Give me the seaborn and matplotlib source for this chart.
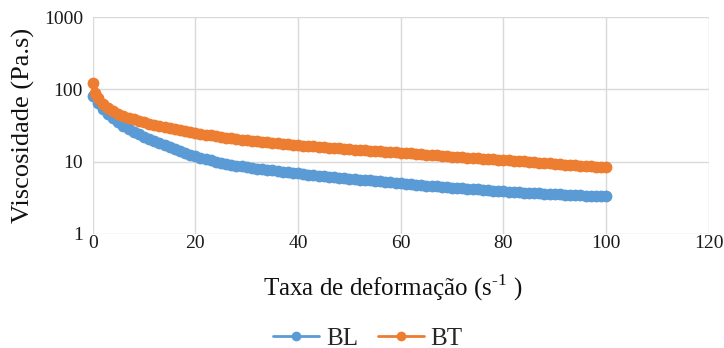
import matplotlib
matplotlib.use("Agg")
import matplotlib.pyplot as plt
import seaborn as sns
import pandas as pd
import numpy as np
from matplotlib.lines import Line2D

# ---- data ----
shear_rate = [0.1] + list(range(1, 101))

bl_viscosity = [80, 65, 54, 46, 40, 35, 31.5, 28.5, 26, 24, 22,
                20.5, 19, 17.8, 16.7, 15.7, 14.8, 14.0, 13.2, 12.5, 11.8,
                11.3, 10.8, 10.4, 10.0, 9.7, 9.4, 9.1, 8.8, 8.6, 8.4,
                8.2, 8.0, 7.85, 7.7, 7.55, 7.4, 7.25, 7.1, 7.0, 6.9,
                6.75, 6.6, 6.5, 6.4, 6.3, 6.2, 6.1, 6.0, 5.9, 5.8,
                5.72, 5.64, 5.56, 5.48, 5.40, 5.32, 5.24, 5.16, 5.08, 5.0,
                4.93, 4.86, 4.79, 4.72, 4.66, 4.60, 4.54, 4.48, 4.42, 4.36,
                4.31, 4.26, 4.21, 4.16, 4.11, 4.06, 4.01, 3.97, 3.93, 3.89,
                3.85, 3.81, 3.77, 3.73, 3.70, 3.67, 3.64, 3.61, 3.58, 3.55,
                3.52, 3.49, 3.46, 3.43, 3.41, 3.39, 3.37, 3.35, 3.33, 3.30]

bt_viscosity = [122, 75, 62, 55, 50, 46, 43, 40.5, 38.5, 36.5, 35,
                33.5, 32.2, 31, 30, 29, 28, 27.2, 26.4, 25.6, 24.9,
                24.2, 23.6, 23.0, 22.5, 22.0, 21.5, 21.0, 20.6, 20.2, 19.8,
                19.4, 19.1, 18.8, 18.5, 18.2, 17.9, 17.6, 17.3, 17.0, 16.8,
                16.6, 16.4, 16.2, 16.0, 15.8, 15.6, 15.4, 15.2, 15.0, 14.8,
                14.6, 14.45, 14.3, 14.15, 14.0, 13.85, 13.7, 13.55, 13.4, 13.25,
                13.1, 12.95, 12.8, 12.65, 12.5, 12.35, 12.2, 12.05, 11.9, 11.75,
                11.6, 11.48, 11.36, 11.24, 11.12, 11.0, 10.88, 10.76, 10.64, 10.52,
                10.4, 10.28, 10.16, 10.04, 9.92, 9.80, 9.68, 9.56, 9.44, 9.32,
                9.2, 9.1, 9.0, 8.9, 8.8, 8.7, 8.62, 8.54, 8.46, 8.4]

# extra early BT point (second marker near the start)
bt_extra_x = [0.5]
bt_extra_y = [90]

series_names = ["BL", "BT"]
x_ticks = [0, 20, 40, 60, 80, 100, 120]
y_ticks = [1, 10, 100, 1000]

df = pd.DataFrame({
    "x": shear_rate + shear_rate + bt_extra_x,
    "y": bl_viscosity + bt_viscosity + bt_extra_y,
    "s": ["BL"] * len(shear_rate) + ["BT"] * len(shear_rate) + ["BT"] * len(bt_extra_x),
}).sort_values(["s", "x"])

sns.set_theme(style="white")
plt.rcParams["font.family"] = ["Liberation Serif", "DejaVu Serif"]
plt.rcParams["mathtext.fontset"] = "custom"
plt.rcParams["mathtext.rm"] = "Liberation Serif"

fig = plt.figure(figsize=(7.24, 3.48), dpi=100)
ax = fig.add_axes([0.128, 0.328, 0.851, 0.623])

palette = {"BL": "#5B9BD5", "BT": "#ED7D31"}
sns.lineplot(data=df, x="x", y="y", hue="s", hue_order=series_names,
             palette=palette, marker="o", markersize=8.5, markeredgewidth=0,
             linewidth=4.5, sort=False, ax=ax, legend=True)
for ln in ax.lines:
    ln.set_clip_on(False)

ax.set_yscale("log")
ax.set_xlim(0, 120)
ax.set_ylim(1, 1000)
ax.set_xticks(x_ticks)
ax.set_xticklabels([str(t) for t in x_ticks])
ax.set_yticks(y_ticks)
ax.set_yticklabels([str(t) for t in y_ticks])
ax.yaxis.set_minor_locator(matplotlib.ticker.NullLocator())
ax.grid(True, color="#d9d9d9", linewidth=1)
ax.set_axisbelow(True)
for sp in ax.spines.values():
    sp.set_visible(False)
ax.tick_params(axis="both", length=0, labelsize=14, colors="#1a1a1a")
ax.tick_params(axis="x", pad=1)
ax.tick_params(axis="y", pad=7)

ax.set_xlabel("Taxa de deformação (s$^{\\mathregular{\u20101}}$ )", fontsize=18, color="#111111")
ax.xaxis.set_label_coords(0.487, -0.18)
ax.set_ylabel("Viscosidade (Pa.s)", fontsize=19, labelpad=6, color="#111111")

ax.get_legend().remove()
handles = [Line2D([], [], color=palette[n], marker="o", markersize=7, markeredgewidth=0, linewidth=2)
           for n in series_names]
fig.legend(handles, series_names, loc="center", bbox_to_anchor=(0.508, 0.028),
           ncol=2, frameon=False, fontsize=18, handlelength=1.85,
           columnspacing=0.8, handletextpad=0.25)

fig.savefig("out.png", dpi=100)
